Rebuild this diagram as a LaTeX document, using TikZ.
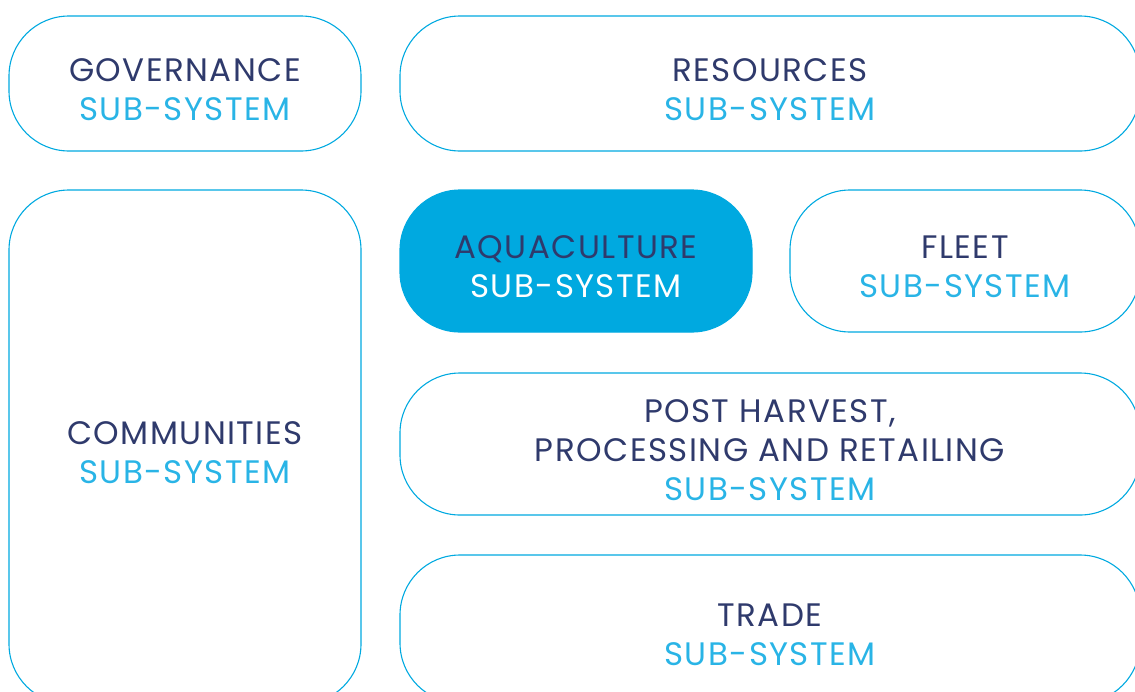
\documentclass[tikz,border=0pt]{standalone}
\usepackage{fontspec}
\setmainfont{Poppins}[LetterSpace=4.5]
\definecolor{navy}{HTML}{2F3A6C}
\definecolor{sky}{HTML}{29B4E6}
\definecolor{edge}{HTML}{00A9E0}
\tikzset{
  box/.style={draw=edge, line width=1.1pt, rounded corners=60pt, inner sep=0pt, outer sep=0pt},
  hot/.style={box, fill=edge},
  lbl/.style={align=center, inner sep=0pt, font=\fontsize{32.5}{39}\selectfont, text=navy},
}
\newcommand{\sub}{\textcolor{sky}{SUB-SYSTEM}}
\begin{document}
\begin{tikzpicture}[x=1pt,y=-1pt]
\useasboundingbox (0,0) rectangle (1135,691);
\clip (0,0) rectangle (1135,691);
\node[box, minimum width=352pt, minimum height=135pt] (gov) at (185,83.5) {};
\node[box, minimum width=740pt, minimum height=135pt] (res) at (770,83.5) {};
\node[box, minimum width=352pt, minimum height=514pt] (com) at (185,447) {};
\node[hot, minimum width=352pt, minimum height=142pt] (aqu) at (576,261) {};
\node[box, minimum width=350pt, minimum height=142pt] (fle) at (965,261) {};
\node[box, minimum width=740pt, minimum height=142pt] (pos) at (770,444) {};
\node[box, minimum width=740pt, minimum height=148pt] (tra) at (770,629) {};
\node[lbl] (govt) at ([yshift=-6pt]gov.center) {GOVERNANCE\\\sub};
\node[lbl] (rest) at ([yshift=-6pt]res.center) {RESOURCES\\\sub};
\node[lbl] (comt) at ([yshift=-6pt]com.center) {COMMUNITIES\\\sub};
\node[lbl] (aqut) at ([yshift=-6pt]aqu.center) {AQUACULTURE\\\textcolor{white}{SUB-SYSTEM}};
\node[lbl] (flet) at ([yshift=-6pt]fle.center) {FLEET\\\sub};
\node[lbl] (post) at ([yshift=-6pt]pos.center) {POST HARVEST,\\PROCESSING AND RETAILING\\\sub};
\node[lbl] (trat) at ([yshift=-6pt]tra.center) {TRADE\\\sub};
\end{tikzpicture}
\end{document}
